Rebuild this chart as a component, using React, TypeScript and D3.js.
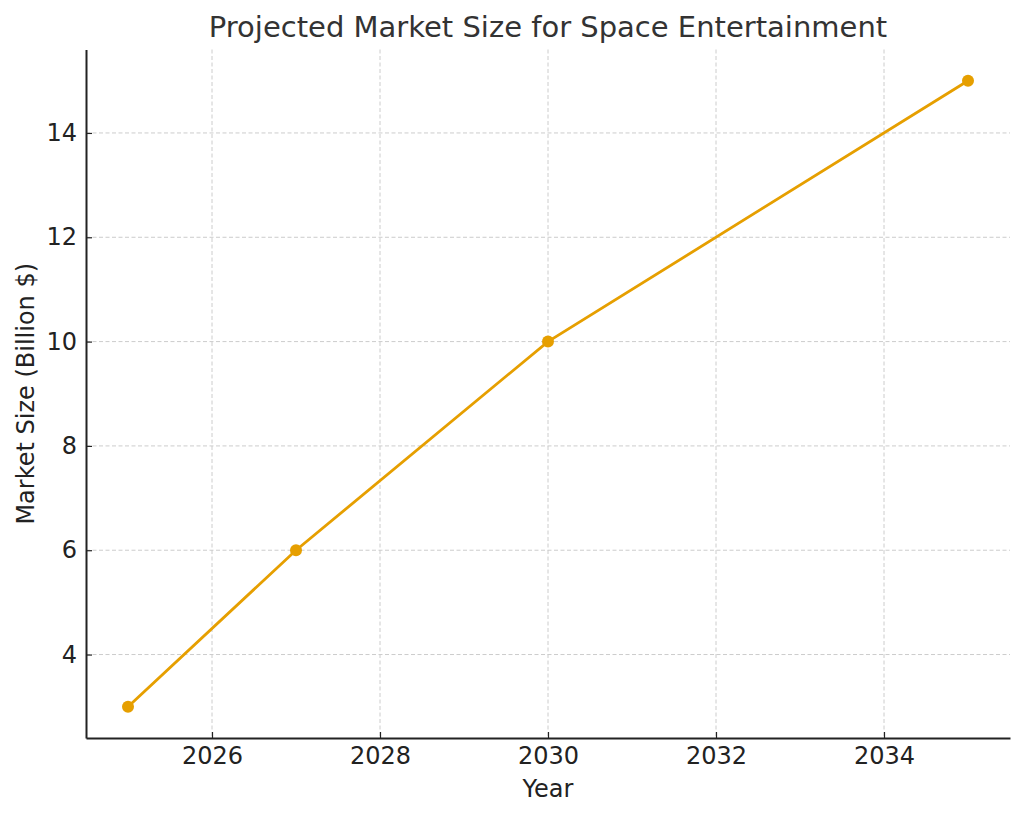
import { useRef, useEffect } from 'react';
import * as d3 from 'd3';

const years = [2025, 2027, 2030, 2035];
const marketSize = [3, 6, 10, 15];
const xTicks = [2026, 2028, 2030, 2032, 2034];
const yTicks = [4, 6, 8, 10, 12, 14];

export default function App() {
  const svgRef = useRef<SVGSVGElement | null>(null);

  useEffect(() => {
    if (!svgRef.current) return;
    const svg = d3.select(svgRef.current);
    svg.selectAll('*').remove();

    const width = 1024;
    const height = 816;
    const margin = { top: 49.5, right: 14, bottom: 78, left: 86 };
    const innerWidth = width - margin.left - margin.right;
    const innerHeight = height - margin.top - margin.bottom;
    const font = 'DejaVu Sans, sans-serif';

    const x = d3.scaleLinear().domain([2024.5, 2035.5]).range([0, innerWidth]);
    const y = d3.scaleLinear().domain([2.4, 15.6]).range([innerHeight, 0]);

    const g = svg.append('g').attr('transform', `translate(${margin.left},${margin.top})`);

    // grid
    g.append('g')
      .selectAll('line')
      .data(xTicks)
      .enter()
      .append('line')
      .attr('x1', d => x(d))
      .attr('x2', d => x(d))
      .attr('y1', 0)
      .attr('y2', innerHeight)
      .attr('stroke', '#cccccc')
      .attr('stroke-width', 1)
      .attr('stroke-dasharray', '4,2.5');

    g.append('g')
      .selectAll('line')
      .data(yTicks)
      .enter()
      .append('line')
      .attr('x1', 0)
      .attr('x2', innerWidth)
      .attr('y1', d => y(d))
      .attr('y2', d => y(d))
      .attr('stroke', '#cccccc')
      .attr('stroke-width', 1)
      .attr('stroke-dasharray', '4,2.5');

    // axes with inward ticks
    const xAxis = g.append('g')
      .attr('transform', `translate(0,${innerHeight})`)
      .call(d3.axisBottom(x).tickValues(xTicks).tickFormat(d3.format('d')).tickSizeInner(-6).tickSizeOuter(0).tickPadding(8.5));
    const yAxis = g.append('g')
      .call(d3.axisLeft(y).tickValues(yTicks).tickFormat(d3.format('d')).tickSizeInner(-6).tickSizeOuter(0).tickPadding(9));

    [xAxis, yAxis].forEach(ax => {
      ax.attr('font-size', null).attr('font-family', null);
      ax.select('.domain').attr('stroke', '#222').attr('stroke-width', 2);
      ax.selectAll('.tick line').attr('stroke', '#222').attr('stroke-width', 1.2);
      ax.selectAll('.tick text')
        .attr('fill', '#222')
        .style('font-family', font)
        .style('font-size', '24px');
    });

    // line
    const pts = years.map((yr, i) => [yr, marketSize[i]] as [number, number]);
    g.append('path')
      .datum(pts)
      .attr('fill', 'none')
      .attr('stroke', '#e69f00')
      .attr('stroke-width', 2.8)
      .attr('d', d3.line<[number, number]>().x(d => x(d[0])).y(d => y(d[1])));

    g.selectAll('circle')
      .data(pts)
      .enter()
      .append('circle')
      .attr('cx', d => x(d[0]))
      .attr('cy', d => y(d[1]))
      .attr('r', 6)
      .attr('fill', '#e69f00');

    // labels
    svg.append('text')
      .attr('x', margin.left + innerWidth / 2)
      .attr('y', 37)
      .attr('text-anchor', 'middle')
      .attr('fill', '#333')
      .style('font-family', font)
      .style('font-size', '29px')
      .text('Projected Market Size for Space Entertainment');

    svg.append('text')
      .attr('x', margin.left + innerWidth / 2)
      .attr('y', 797)
      .attr('text-anchor', 'middle')
      .attr('fill', '#222')
      .style('font-family', font)
      .style('font-size', '24px')
      .text('Year');

    svg.append('text')
      .attr('transform', `translate(34,${margin.top + innerHeight / 2}) rotate(-90)`)
      .attr('text-anchor', 'middle')
      .attr('fill', '#222')
      .style('font-family', font)
      .style('font-size', '24px')
      .text('Market Size (Billion $)');
  }, []);

  return (
    <svg ref={svgRef} width={1024} height={816} style={{ position: 'absolute', left: 0, top: 0, background: '#fff' }} />
  );
}
